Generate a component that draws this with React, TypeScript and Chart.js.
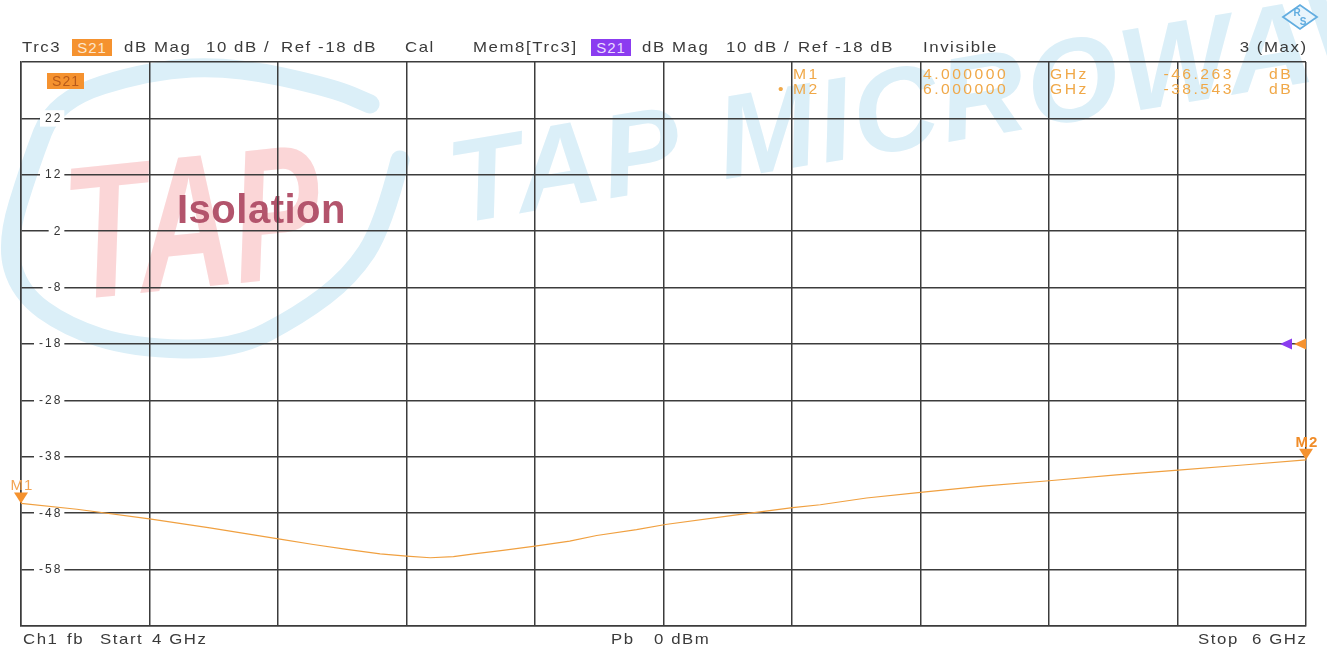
import React, { useEffect, useRef } from "react";
import { Chart, registerables } from "chart.js";

Chart.register(...registerables);

// ---------- data ----------
const freqGHz = [
  4.0, 4.087, 4.2, 4.294, 4.403, 4.455, 4.507, 4.559, 4.6, 4.637, 4.673, 4.705,
  4.75, 4.8, 4.854, 4.896, 4.958, 5.003, 5.108, 5.201, 5.244, 5.316, 5.4, 5.497,
  5.6, 5.705, 5.801, 5.902, 6.0,
];
const s21dB = [
  -46.26, -47.3, -49.0, -50.6, -52.6, -53.55, -54.4, -55.2, -55.6, -55.9, -55.7, -55.2,
  -54.6, -53.85, -52.95, -51.95, -50.9, -50.0, -48.4, -47.0, -46.5, -45.3, -44.3, -43.2,
  -42.25, -41.2, -40.35, -39.45, -38.54,
];
const markerNames = ["M1", "M2"];
const markerFreqGHz = [4.0, 6.0];
const markerValuesDB = [-46.263, -38.543];
const startGHz = 4;
const stopGHz = 6;
const freqStepGHz = 0.2;
const yMin = -68;
const yMax = 32;
const dbPerDiv = 10;
const refLevelDB = -18;
const traceName = "S21";
const chartLabel = "Isolation";
const watermarkBig = "TAP";
const watermarkLine = "TAP MICROWAVE";

const FONT = '"Liberation Sans", Arial, sans-serif';
const ORANGE = "#f5922f";
const TRACE = "#f0a040";
const MARK_TXT = "#f0a848";
const GRID = "#3c3c3c";
const WM_BLUE = "#dbeff8";

const Txt = (p: any) => {
  const {
    x, y, children, align = "left", color = "#3a3a3a", size = 15, ls = 1.4, weight = 400,
  } = p;
  const style: any = {
    position: "absolute",
    top: y - 9,
    height: 18,
    lineHeight: "18px",
    font: `${weight} ${size}px ${FONT}`,
    letterSpacing: `${ls}px`,
    color,
    whiteSpace: "pre",
    zIndex: 2,
    display: "inline-block",
    transform: "scaleX(1.12)",
    transformOrigin: align === "right" ? "right center" : "left center",
  };
  if (align === "right") style.right = 1327 - x - ls;
  else style.left = x;
  return <span style={style}>{children}</span>;
};

const Box = (p: any) => (
  <span
    style={{
      position: "absolute",
      left: p.x,
      top: p.y,
      width: p.w,
      height: 17,
      lineHeight: "17px",
      textAlign: "center",
      background: p.bg,
      color: p.color,
      font: `400 15px ${FONT}`,
      letterSpacing: "1px",
      zIndex: 2,
    }}
  >
    {p.children}
  </span>
);

const decorPlugin = {
  id: "decor",
  beforeUpdate(chart: any) {
    chart.ctx.letterSpacing = "2px";
  },
  beforeDraw(chart: any) {
    const ctx = chart.ctx;
    ctx.save();
    ctx.letterSpacing = "0px";
    // watermark ring
    const pts = [
      [400, 160], [383, 227], [350, 277], [300, 315], [233, 350], [133, 348],
      [67, 327], [20, 293], [6, 243], [30, 165], [55, 100], [150, 70], [233, 66],
      [333, 88], [370, 104],
    ];
    ctx.strokeStyle = WM_BLUE;
    ctx.lineWidth = 19;
    ctx.lineCap = "round";
    ctx.lineJoin = "round";
    ctx.beginPath();
    ctx.moveTo(pts[0][0], pts[0][1]);
    for (let i = 1; i < pts.length - 1; i++) {
      const mx = (pts[i][0] + pts[i + 1][0]) / 2;
      const my = (pts[i][1] + pts[i + 1][1]) / 2;
      ctx.quadraticCurveTo(pts[i][0], pts[i][1], mx, my);
    }
    ctx.lineTo(pts[pts.length - 1][0], pts[pts.length - 1][1]);
    ctx.stroke();
    // big red TAP
    ctx.save();
    ctx.translate(72, 300);
    ctx.rotate(-0.1);
    ctx.scale(0.7, 1);
    ctx.fillStyle = "#fbd6d7";
    ctx.font = `italic bold 190px ${FONT}`;
    ctx.textBaseline = "alphabetic";
    ctx.fillText(watermarkBig, 0, 0);
    ctx.restore();
    // TAP MICROWAVE line
    ctx.save();
    ctx.translate(456, 224);
    ctx.rotate(-0.165);
    ctx.fillStyle = WM_BLUE;
    ctx.font = `italic bold 118px ${FONT}`;
    ctx.letterSpacing = "3px";
    ctx.fillText(watermarkLine, 0, 0);
    ctx.restore();
    // Isolation label
    ctx.fillStyle = "#b3546c";
    ctx.font = `bold 40px ${FONT}`;
    ctx.letterSpacing = "0.5px";
    ctx.textBaseline = "alphabetic";
    ctx.fillText(chartLabel, 177, 223);
    ctx.restore();
    ctx.letterSpacing = "2px";
  },
  afterDraw(chart: any) {
    const ctx = chart.ctx;
    const xs = chart.scales.x;
    const ys = chart.scales.y;
    const area = chart.chartArea;
    ctx.save();
    ctx.letterSpacing = "1px";
    // S21 tag in plot
    ctx.fillStyle = ORANGE;
    ctx.fillRect(area.left + 26, area.top + 11, 37, 16);
    ctx.fillStyle = "#b85a1a";
    ctx.font = `14px ${FONT}`;
    ctx.textAlign = "center";
    ctx.textBaseline = "middle";
    ctx.fillText(traceName, area.left + 45, area.top + 20);
    // reference level triangles
    const ry = ys.getPixelForValue(refLevelDB);
    const rx = area.right;
    ctx.fillStyle = ORANGE;
    ctx.beginPath();
    ctx.moveTo(rx, ry - 5.5);
    ctx.lineTo(rx - 12, ry);
    ctx.lineTo(rx, ry + 5.5);
    ctx.closePath();
    ctx.fill();
    ctx.fillStyle = "#8b3cf0";
    ctx.beginPath();
    ctx.moveTo(rx - 14, ry - 5.5);
    ctx.lineTo(rx - 26, ry);
    ctx.lineTo(rx - 14, ry + 5.5);
    ctx.closePath();
    ctx.fill();
    // markers
    markerFreqGHz.forEach((f, i) => {
      const px = xs.getPixelForValue(f);
      const py = ys.getPixelForValue(markerValuesDB[i]);
      ctx.fillStyle = ORANGE;
      ctx.beginPath();
      ctx.moveTo(px - 7, py - 11);
      ctx.lineTo(px + 7, py - 11);
      ctx.lineTo(px, py);
      ctx.closePath();
      ctx.fill();
      ctx.fillStyle = i === 1 ? "#f08c28" : "#f3a452";
      ctx.font = `${i === 1 ? "bold " : ""}15px ${FONT}`;
      ctx.textAlign = "center";
      ctx.textBaseline = "alphabetic";
      ctx.fillText(markerNames[i], px + 1, py - 13);
    });
    // R&S logo
    ctx.letterSpacing = "0px";
    ctx.beginPath();
    ctx.moveTo(1283, 17);
    ctx.lineTo(1300, 5);
    ctx.lineTo(1317, 17);
    ctx.lineTo(1300, 29);
    ctx.closePath();
    ctx.fillStyle = "#e9f5fc";
    ctx.fill();
    ctx.strokeStyle = "#62ade0";
    ctx.lineWidth = 1.8;
    ctx.stroke();
    ctx.fillStyle = "#62ade0";
    ctx.font = `bold 10px ${FONT}`;
    ctx.textAlign = "center";
    ctx.textBaseline = "middle";
    ctx.fillText("R", 1297, 13);
    ctx.fillText("S", 1303, 22);
    ctx.restore();
  },
};

export default function App() {
  const ref = useRef<HTMLCanvasElement | null>(null);

  useEffect(() => {
    if (!ref.current) return;
    const chart = new Chart(ref.current, {
      type: "line",
      data: {
        datasets: [
          {
            label: traceName,
            data: freqGHz.map((f, i) => ({ x: f, y: s21dB[i] })),
            borderColor: TRACE,
            borderWidth: 1.2,
            pointRadius: 0,
            tension: 0,
          },
        ],
      },
      options: {
        animation: false,
        responsive: false,
        maintainAspectRatio: false,
        layout: { padding: { left: 21, right: 21, top: 62, bottom: 26 } },
        plugins: { legend: { display: false }, tooltip: { enabled: false } },
        scales: {
          x: {
            type: "linear",
            min: startGHz,
            max: stopGHz,
            ticks: { display: false, stepSize: freqStepGHz },
            grid: { color: GRID, lineWidth: 1.5, drawTicks: false },
            border: { color: GRID, width: 1.5 },
            afterFit: (s: any) => {
              s.height = 0;
              s.paddingLeft = 0;
              s.paddingRight = 0;
            },
          },
          y: {
            type: "linear",
            min: yMin,
            max: yMax,
            ticks: {
              stepSize: dbPerDiv,
              mirror: true,
              crossAlign: "far",
              padding: 18,
              color: "#333",
              font: { family: "Liberation Sans", size: 12 },
              showLabelBackdrop: (c: any) =>
                !!c.tick && c.tick.value > yMin && c.tick.value < yMax,
              backdropColor: "#ffffff",
              backdropPadding: { top: 1, bottom: 1, left: 5, right: 2 },
              callback: (v: any) => (v === yMin || v === yMax ? "" : String(v)),
            },
            grid: { color: GRID, lineWidth: 1.5, drawTicks: false },
            border: { color: GRID, width: 1.5 },
            afterFit: (s: any) => {
              s.width = 0;
              s.paddingTop = 0;
              s.paddingBottom = 0;
            },
          },
        },
      } as any,
      plugins: [decorPlugin],
    });
    return () => chart.destroy();
  }, []);

  const refTxt = `Ref ${refLevelDB} dB`;
  const divTxt = `${dbPerDiv} dB /`;

  return (
    <div
      style={{
        position: "absolute",
        left: 0,
        top: 0,
        width: 1327,
        height: 652,
        background: "#ffffff",
        overflow: "hidden",
      }}
    >
      <canvas
        ref={ref}
        width={1327}
        height={652}
        style={{ position: "absolute", left: 0, top: 0, width: 1327, height: 652, zIndex: 1 }}
      />
      {/* header */}
      <Txt x={22} y={47}>Trc3</Txt>
      <Box x={72} y={39} w={40} bg={ORANGE} color="#fde6cc">{traceName}</Box>
      <Txt x={124} y={47}>dB Mag</Txt>
      <Txt x={206} y={47}>{divTxt}</Txt>
      <Txt x={281} y={47}>{refTxt}</Txt>
      <Txt x={405} y={47}>Cal</Txt>
      <Txt x={473} y={47}>Mem8[Trc3]</Txt>
      <Box x={591} y={39} w={40} bg="#8b3cf0" color="#eadcff">{traceName}</Box>
      <Txt x={642} y={47}>dB Mag</Txt>
      <Txt x={726} y={47}>{divTxt}</Txt>
      <Txt x={798} y={47}>{refTxt}</Txt>
      <Txt x={923} y={47}>Invisible</Txt>
      <Txt x={1306} y={47} align="right">3 (Max)</Txt>
      {/* marker table */}
      {markerNames.map((m, i) => {
        const y = 75 + i * 15;
        return (
          <React.Fragment key={m}>
            {i === 1 ? <Txt x={778} y={y} size={14} color={MARK_TXT}>•</Txt> : null}
            <Txt x={793} y={y} size={14} ls={2.2} color={MARK_TXT}>{m}</Txt>
            <Txt x={923} y={y} size={14} ls={2.2} color={MARK_TXT}>{markerFreqGHz[i].toFixed(6)}</Txt>
            <Txt x={1050} y={y} size={14} ls={2.2} color={MARK_TXT}>GHz</Txt>
            <Txt x={1232} y={y} size={14} ls={2.2} color={MARK_TXT} align="right">{markerValuesDB[i].toFixed(3)}</Txt>
            <Txt x={1269} y={y} size={14} ls={2.2} color={MARK_TXT}>dB</Txt>
          </React.Fragment>
        );
      })}
      {/* footer */}
      <Txt x={23} y={639}>Ch1</Txt>
      <Txt x={67} y={639}>fb</Txt>
      <Txt x={100} y={639}>Start</Txt>
      <Txt x={152} y={639}>{`${startGHz} GHz`}</Txt>
      <Txt x={611} y={639}>Pb</Txt>
      <Txt x={654} y={639}>0 dBm</Txt>
      <Txt x={1198} y={639}>Stop</Txt>
      <Txt x={1306} y={639} align="right">{`${stopGHz} GHz`}</Txt>
    </div>
  );
}
